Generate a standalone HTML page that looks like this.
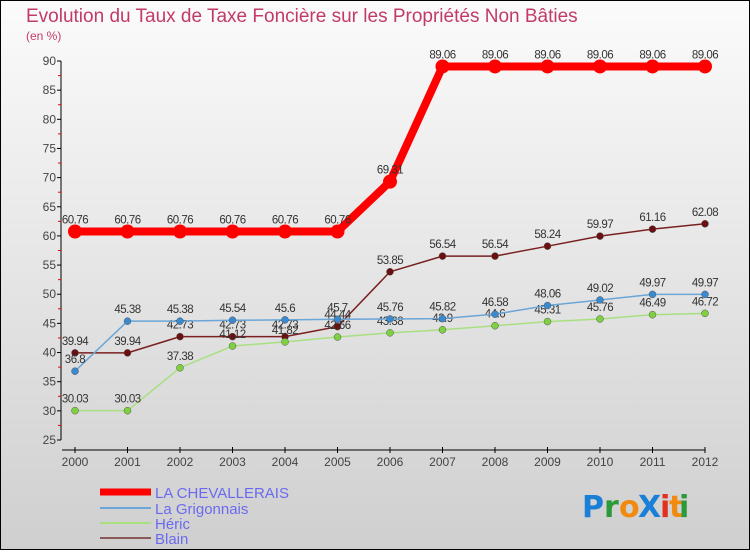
<!DOCTYPE html>
<html><head><meta charset="utf-8">
<style>
html,body{margin:0;padding:0}
body{width:750px;height:550px;overflow:hidden;font-family:"Liberation Sans",sans-serif}
</style></head>
<body>
<svg width="750" height="550" xmlns="http://www.w3.org/2000/svg" id="svg">
<defs>
<linearGradient id="bg" x1="0" y1="0" x2="0" y2="1">
<stop offset="0" stop-color="#fbfbfb"/><stop offset="1" stop-color="#cfcfcf"/>
</linearGradient>
</defs>
<rect x="0.5" y="0.5" width="749" height="549" fill="url(#bg)" stroke="#000"/>
<text x="26" y="22" font-size="19" fill="#c23a68">Evolution du Taux de Taxe Foncière sur les Propriétés Non Bâties</text>
<text x="26" y="40" font-size="12" fill="#c23a68">(en %)</text>
<g id="axes"></g>
<g id="series"></g>
<g id="legend"></g>
<g font-size="30" font-family="'DejaVu Sans',sans-serif" font-weight="bold">
<text x="582" y="517" fill="#1a7fd6">P</text><text x="604" y="517" fill="#2a9a3a">r</text><text x="619" y="517" fill="#f08a10">o</text><text x="638" y="517" fill="#1a7fd6">X</text><text x="660" y="517" fill="#e03020">i</text><text x="669" y="517" fill="#f08a10">t</text><text x="679" y="517" fill="#2a9a3a">i</text>
</g>
</svg>
<script>
const years=[2000,2001,2002,2003,2004,2005,2006,2007,2008,2009,2010,2011,2012];
const chevallerais=[60.76,60.76,60.76,60.76,60.76,60.76,69.31,89.06,89.06,89.06,89.06,89.06,89.06];
const grigonnais=[36.8,45.38,45.38,45.54,45.6,45.7,45.76,45.82,46.58,48.06,49.02,49.97,49.97];
const heric=[30.03,30.03,37.38,41.12,41.82,42.66,43.38,43.9,44.6,45.31,45.76,46.49,46.72];
const blain=[39.94,39.94,42.73,42.73,42.73,44.44,53.85,56.54,56.54,58.24,59.97,61.16,62.08];
const yTicks=[25,30,35,40,45,50,55,60,65,70,75,80,85,90];
const NS="http://www.w3.org/2000/svg";
const xS=i=>75+i*52.5;
const yS=v=>61+(90-v)*(379/65);
function mk(tag,attrs,parent){const e=document.createElementNS(NS,tag);for(const k in attrs)e.setAttribute(k,attrs[k]);parent.appendChild(e);return e;}
const axes=document.getElementById('axes');
let a=mk('line',{x1:61,y1:yS(90),x2:61,y2:yS(25),stroke:'#000'},axes);

a=mk('line',{x1:62,y1:450,x2:xS(12),y2:450,stroke:'#000'},axes);

yTicks.forEach((t,i)=>{
 mk('line',{x1:57,x2:61,y1:yS(t),y2:yS(t),stroke:'#000'},axes);
 if(i<yTicks.length-1)mk('line',{x1:58,x2:61,y1:yS(t+2.5),y2:yS(t+2.5),stroke:'#e00'},axes);
 const tx=mk('text',{x:56,y:yS(t)+4,'text-anchor':'end','font-size':12,fill:'#444'},axes);
 tx.textContent=t;
 
 
});
years.forEach((y,i)=>{
 mk('line',{x1:xS(i),x2:xS(i),y1:447,y2:453,stroke:'#000'},axes);
 const tx=mk('text',{x:xS(i),y:466,'text-anchor':'middle','font-size':12,fill:'#444'},axes);
 tx.textContent=y;
 
 
});
const series=[
 {name:'blain',data:blain,color:'#7a2020',w:1.5,r:3.5,fill:'#6a1010',label:'Blain'},
 {name:'heric',data:heric,color:'#a8e080',w:1.5,r:3.5,fill:'#7fd040',label:'Héric'},
 {name:'grigonnais',data:grigonnais,color:'#6aa6d8',w:1.5,r:3.5,fill:'#3a8ad0',label:'La Grigonnais'},
 {name:'chevallerais',data:chevallerais,color:'#f00',w:8,r:7,fill:'#f00',label:'LA CHEVALLERAIS'}
];
const sg=document.getElementById('series');
series.forEach(s=>{
 const g=mk('g',{},sg);
 
 
 const pts=s.data.map((v,i)=>xS(i)+','+yS(v)).join(' ');
 const pl=mk('polyline',{points:pts,fill:'none',stroke:s.color,'stroke-width':s.w,'stroke-linejoin':'round'},g);
 
 
 s.data.forEach((v,i)=>{
  const c=mk('circle',{cx:xS(i),cy:yS(v),r:s.r,fill:s.fill,stroke:s.name==='chevallerais'?'none':'#555','stroke-width':0.5},g);
  
  
  const t=mk('text',{x:xS(i),y:yS(v)-8,'text-anchor':'middle','font-size':11.5,fill:'#333','letter-spacing':'-0.5'},g);
  t.textContent=v;
  
  
 });
});
const lg=document.getElementById('legend');
const leg=[['LA CHEVALLERAIS','#f00',7,492],['La Grigonnais','#6aa6d8',2,508],['Héric','#a8e080',2,523],['Blain','#8a5a5a',2,538]];
leg.forEach(l=>{
 const g=mk('g',{},lg);
 
 
 mk('line',{x1:100,x2:151,y1:l[3],y2:l[3],stroke:l[1],'stroke-width':l[2]},g);
 const t=mk('text',{x:155,y:l[3]+6,'font-size':15,fill:'#6a6af0'},g);
 t.textContent=l[0];
});
</script>
</body></html>
